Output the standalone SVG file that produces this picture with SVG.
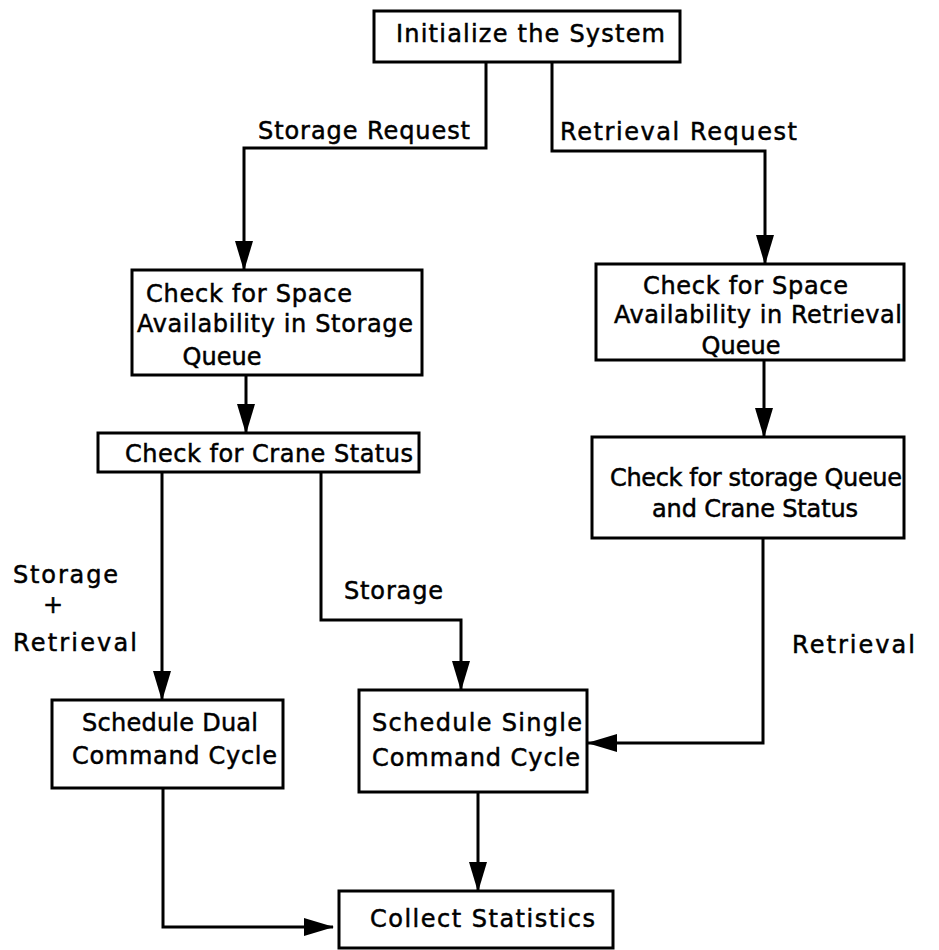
<svg xmlns="http://www.w3.org/2000/svg" width="939" height="950" viewBox="0 0 939 950">
<defs>
<marker id="arr" markerUnits="userSpaceOnUse" markerWidth="30" markerHeight="18" refX="29" refY="9" orient="auto">
<path d="M0,0 L30,9 L0,18 Z" fill="#000"/>
</marker>
<style>
.box{fill:#fff;stroke:#000;stroke-width:3}
.t{font-family:"DejaVu Sans","Liberation Sans",sans-serif;font-size:24px;fill:#000;stroke:#000;stroke-width:0.5}
.c{fill:none;stroke:#000;stroke-width:3;marker-end:url(#arr)}
</style>
</defs>
<rect width="939" height="950" fill="#fff"/>
<g id="connectors">
<path class="c" d="M486,62 V148 H244 V270"/>
<path class="c" d="M552,62 V151 H765 V264"/>
<path class="c" d="M246,375 V433"/>
<path class="c" d="M764,360 V437"/>
<path class="c" d="M162,472 V700"/>
<path class="c" d="M321,472 V620 H461 V690"/>
<path class="c" d="M763,538 V743 H588"/>
<path class="c" d="M163,788 V927 H333"/>
<path class="c" d="M478,792 V891"/>
</g>
<g id="labels">
<text class="t" x="258" y="139" textLength="212" lengthAdjust="spacing">Storage Request</text>
<text class="t" x="560" y="140" textLength="237" lengthAdjust="spacing">Retrieval Request</text>
<text class="t" x="13" y="583" textLength="105" lengthAdjust="spacing">Storage</text>
<text class="t" x="53" y="613" text-anchor="middle">+</text>
<text class="t" x="13" y="651" textLength="124" lengthAdjust="spacing">Retrieval</text>
<text class="t" x="344" y="599" textLength="99" lengthAdjust="spacing">Storage</text>
<text class="t" x="792" y="653" textLength="123" lengthAdjust="spacing">Retrieval</text>
</g>
<g id="init">
<rect class="box" x="374" y="11" width="306" height="51"/>
<text class="t" x="396" y="42" textLength="269" lengthAdjust="spacing">Initialize the System</text>
</g>
<g id="space-storage">
<rect class="box" x="132" y="270" width="290" height="105"/>
<text class="t" x="146" y="302" textLength="206" lengthAdjust="spacing">Check for Space</text>
<text class="t" x="137" y="332" textLength="276" lengthAdjust="spacing">Availability in Storage</text>
<text class="t" x="222" y="365" text-anchor="middle">Queue</text>
</g>
<g id="space-retrieval">
<rect class="box" x="596" y="264" width="308" height="96"/>
<text class="t" x="643" y="294" textLength="205" lengthAdjust="spacing">Check for Space</text>
<text class="t" x="614" y="323" textLength="288" lengthAdjust="spacing">Availability in Retrieval</text>
<text class="t" x="741" y="354" text-anchor="middle">Queue</text>
</g>
<g id="crane-status">
<rect class="box" x="98" y="433" width="321" height="39"/>
<text class="t" x="125" y="462" textLength="288" lengthAdjust="spacing">Check for Crane Status</text>
</g>
<g id="storage-queue-crane">
<rect class="box" x="592" y="437" width="312" height="101"/>
<text class="t" x="610" y="486" textLength="292" lengthAdjust="spacing">Check for storage Queue</text>
<text class="t" x="652" y="517" textLength="206" lengthAdjust="spacing">and Crane Status</text>
</g>
<g id="dual-cycle">
<rect class="box" x="52" y="700" width="231" height="88"/>
<text class="t" x="82" y="731" textLength="176" lengthAdjust="spacing">Schedule Dual</text>
<text class="t" x="72" y="764" textLength="205" lengthAdjust="spacing">Command Cycle</text>
</g>
<g id="single-cycle">
<rect class="box" x="359" y="690" width="228" height="102"/>
<text class="t" x="372" y="731" textLength="210" lengthAdjust="spacing">Schedule Single</text>
<text class="t" x="372" y="766" textLength="208" lengthAdjust="spacing">Command Cycle</text>
</g>
<g id="statistics">
<rect class="box" x="339" y="891" width="274" height="57"/>
<text class="t" x="370" y="927" textLength="225" lengthAdjust="spacing">Collect Statistics</text>
</g>
</svg>
